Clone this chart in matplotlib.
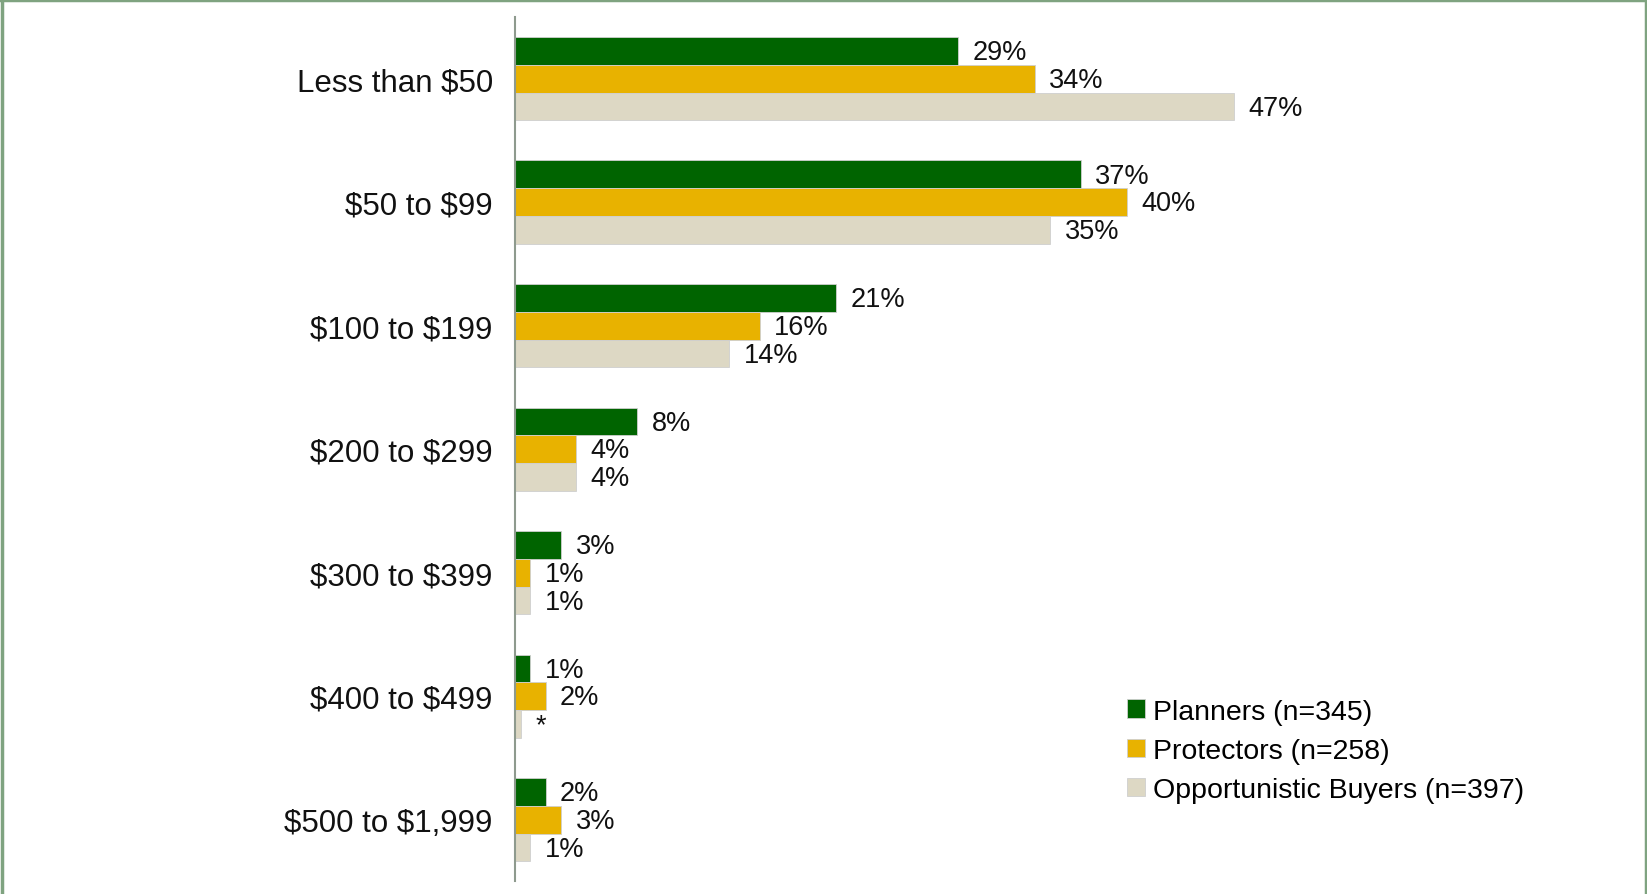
import matplotlib.pyplot as plt
import numpy as np
from matplotlib.lines import Line2D

# Data
categories = ["Less than $50", "$50 to $99", "$100 to $199", "$200 to $299",
              "$300 to $399", "$400 to $499", "$500 to $1,999"]
planners = [29, 37, 21, 8, 3, 1, 2]
protectors = [34, 40, 16, 4, 1, 2, 3]
opportunistic = [47, 35, 14, 4, 1, 0.4, 1]
planners_lbl = ["29%", "37%", "21%", "8%", "3%", "1%", "2%"]
protectors_lbl = ["34%", "40%", "16%", "4%", "1%", "2%", "3%"]
opportunistic_lbl = ["47%", "35%", "14%", "4%", "1%", "*", "1%"]
series_names = ["Planners (n=345)", "Protectors (n=258)", "Opportunistic Buyers (n=397)"]

plt.rcParams['font.family'] = ['Liberation Sans', 'DejaVu Sans']
plt.rcParams['text.parse_math'] = False

fig = plt.figure(figsize=(16.47, 8.95), dpi=100)
ax = fig.add_axes([0.3127, 0.014, 0.557, 0.966])

colors = ["#006400", "#E8B200", "#DDD8C4"]
h = 0.225
y = np.arange(len(categories))
series = [planners, protectors, opportunistic]
labels = [planners_lbl, protectors_lbl, opportunistic_lbl]
for i in range(3):
    ys = y + (i - 1) * h
    ax.barh(ys, series[i], height=h, color=colors[i], edgecolor="#CFCFCF",
            linewidth=0.6, label=series_names[i])
    for yy, v, t in zip(ys, series[i], labels[i]):
        ax.text(v + 0.95, yy + 0.01, t, va="center", ha="left", fontsize=19.5, color="#111111")

ax.set_xlim(0, 60)
ax.set_ylim(6.5, -0.5)
ax.set_yticks(y)
ax.set_yticklabels(categories, fontsize=22.5, color="#111111")
ax.tick_params(axis="y", length=0, pad=16)
ax.set_xticks([])
for s in ["top", "right", "bottom"]:
    ax.spines[s].set_visible(False)
ax.spines["left"].set_color("#8E9A8E")
ax.spines["left"].set_linewidth(1.5)

leg = fig.legend(loc="upper left", bbox_to_anchor=(0.669, 0.247), frameon=False,
                 fontsize=20.5, handlelength=0.6, handleheight=0.6,
                 handletextpad=0.3, labelspacing=0.46)

# green frame around the figure
bc = "#7FA380"
fig.add_artist(Line2D([0.001, 0.001], [0, 1], transform=fig.transFigure, color=bc, lw=2.5))
fig.add_artist(Line2D([0, 1], [0.999, 0.999], transform=fig.transFigure, color=bc, lw=2.5))
fig.add_artist(Line2D([0.9994, 0.9994], [0, 1], transform=fig.transFigure, color=bc, lw=2.5))

fig.savefig("out.png", dpi=100)
